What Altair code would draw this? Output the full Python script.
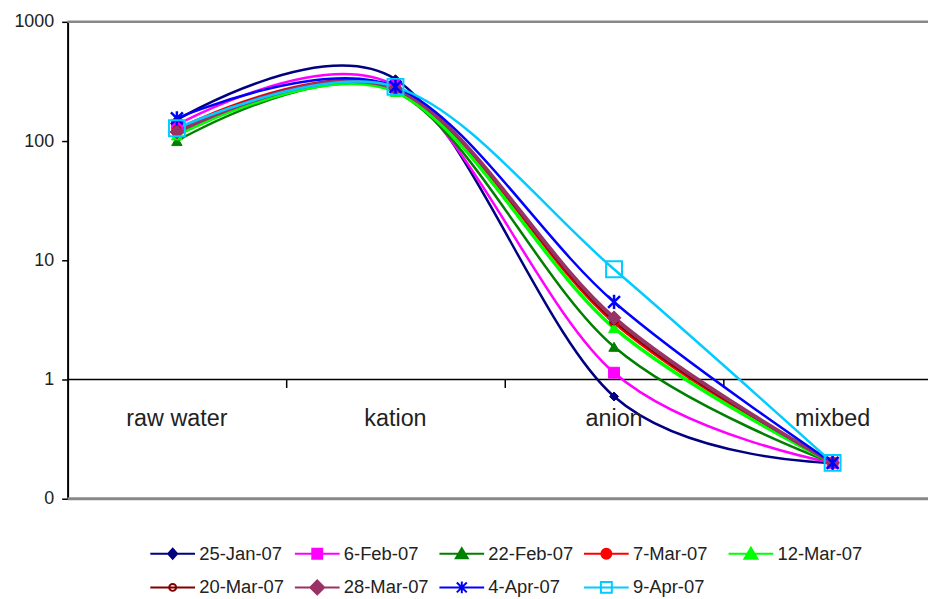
import altair as alt
import pandas as pd

# ---- data ----
categories = ["raw water", "kation", "anion", "mixbed"]
series = ["25-Jan-07", "6-Feb-07", "22-Feb-07", "7-Mar-07", "12-Mar-07",
          "20-Mar-07", "28-Mar-07", "4-Apr-07", "9-Apr-07"]
v_25jan = [150, 330, 0.72, 0.2]
v_6feb = [136, 290, 1.14, 0.2]
v_22feb = [100, 260, 1.88, 0.2]
v_7mar = [125, 275, 3.0, 0.2]
v_12mar = [112, 260, 2.71, 0.2]
v_20mar = [124, 275, 3.1, 0.2]
v_28mar = [119, 275, 3.29, 0.2]
v_4apr = [155, 285, 4.47, 0.2]
v_9apr = [128, 285, 8.4, 0.2]
all_values = [v_25jan, v_6feb, v_22feb, v_7mar, v_12mar, v_20mar, v_28mar, v_4apr, v_9apr]
y_ticks = [0.1, 1, 10, 100, 1000]

# ---- styles ----
colors = ["#000080", "#FF00FF", "#008000", "#FF0000", "#00FF00",
          "#800000", "#993366", "#0000FF", "#00CCFF"]
line_widths = [2.5, 2.5, 2.5, 3, 3.5, 2, 4, 2.5, 2.5]
star = "M-1,-1L1,1M1,-1L-1,1M0,-1.2L0,1.2"
marker_shapes = ["diamond", "square", "triangle-up", "circle", "triangle-up",
                 "circle", "diamond", star, "square"]
marker_sizes = [81, 121, 110, 81, 121, 49, 196, 144, 256]
marker_fills = [colors[0], colors[1], colors[2], colors[3], colors[4],
                "#FFFFFF", colors[6], None, None]

L = "M-1,0L8,0"
legend_paths = [
    L + "M3.5,-1L4.4,0L3.5,1L2.6,0Z",
    L + "M2.5,-1H4.5V1H2.5Z",
    L + "M3.5,-1.1L4.7,0.9H2.3Z",
    L + "M2.5,0A1,1 0 1,1 4.5,0A1,1 0 1,1 2.5,0Z",
    L + "M3.5,-1.2L4.8,1H2.2Z",
    L + "M2.8,0A0.7,0.7 0 1,1 4.2,0A0.7,0.7 0 1,1 2.8,0Z",
    L + "M3.5,-1.4L4.9,0L3.5,1.4L2.1,0Z",
    L + "M2.5,-1L4.5,1M4.5,-1L2.5,1M3.5,-1.2V1.2",
    L + "M2.4,-1.1H4.6V1.1H2.4Z",
]
legend_fills = [colors[0], colors[1], colors[2], colors[3], colors[4],
                "#FFFFFF", colors[6], colors[7], "#FFFFFF"]

rows = []
for s, vals in zip(series, all_values):
    for i, (c, v) in enumerate(zip(categories, vals)):
        rows.append({"series": s, "idx": i, "cat": c, "value": v})
df = pd.DataFrame(rows)
cat_df = pd.DataFrame({"idx": list(range(len(categories))), "cat": categories})

W = 866
H = 480
band = 220.0
x_dom = [-0.5, -0.5 + W / band]

legend = alt.Legend(
    title=None, orient="none", direction="horizontal", legendX=79, legendY=525,
    columns=5, gridAlign="all", columnPadding=6.5, rowPadding=12,
    symbolSize=100, symbolStrokeWidth=2, labelOffset=35,
    labelFont="Liberation Sans", labelFontSize=18.5, labelColor="#222222",
)

x_enc = alt.X("idx:Q", scale=alt.Scale(domain=x_dom, nice=False, zero=False),
              axis=alt.Axis(values=[0.5, 1.5, 2.5], labels=False, domain=False,
                            ticks=True, tickSize=8, tickColor="black", tickWidth=1.5,
                            grid=False, offset=-120, title=None))
y_enc = alt.Y("value:Q", scale=alt.Scale(type="log", domain=[0.1, 1000], nice=False),
              axis=alt.Axis(values=y_ticks, grid=False, title=None,
                            labelExpr="datum.value < 0.5 ? '0' : format(datum.value, 'd')",
                            labelFont="Liberation Sans", labelFontSize=18,
                            labelColor="#222222", labelPadding=8,
                            domainColor="black", domainWidth=2,
                            tickColor="black", tickWidth=1.5, tickSize=6))

base = alt.Chart(df)
layers = []

frame_top = alt.Chart(pd.DataFrame({"value": [1000]})).mark_rule(
    color="#888888", strokeWidth=2.5).encode(y="value:Q")
frame_bot = alt.Chart(pd.DataFrame({"value": [0.1]})).mark_rule(
    color="#888888", strokeWidth=3).encode(y="value:Q")
one_line = alt.Chart(pd.DataFrame({"value": [1]})).mark_rule(
    color="black", strokeWidth=1.5).encode(y="value:Q")
layers += [frame_top, frame_bot, one_line]

for i, s in enumerate(series):
    ln = base.transform_filter(alt.datum.series == s).mark_line(
        interpolate="cardinal", tension=0, strokeWidth=line_widths[i], color=colors[i]
    ).encode(x=x_enc, y=y_enc)
    layers.append(ln)

for i, s in enumerate(series):
    kw = dict(shape=marker_shapes[i], size=marker_sizes[i], stroke=colors[i],
              strokeWidth=2 if marker_fills[i] is None or marker_fills[i] == "#FFFFFF" else 1,
              opacity=1)
    if marker_fills[i] is None:
        kw["filled"] = False
        kw["fillOpacity"] = 0
    else:
        kw["filled"] = True
        kw["fill"] = marker_fills[i]
    if i == 7:
        kw["strokeWidth"] = 2.5
    pt = base.transform_filter(alt.datum.series == s).mark_point(**kw).encode(
        x=x_enc, y=y_enc)
    layers.append(pt)

# legend-only layer (draws nothing in the plot, its scales feed the legend)
legend_layer = base.transform_filter("false").mark_point(
    filled=True, opacity=1, strokeWidth=2
).encode(
    x=x_enc, y=y_enc,
    fill=alt.Fill("series:N", scale=alt.Scale(domain=series, range=legend_fills), legend=legend),
    stroke=alt.Stroke("series:N", scale=alt.Scale(domain=series, range=colors), legend=legend),
    shape=alt.Shape("series:N", scale=alt.Scale(domain=series, range=legend_paths), legend=legend),
)
layers.append(legend_layer)

labels = alt.Chart(cat_df).mark_text(
    dy=47, baseline="alphabetic", align="center", font="Liberation Sans",
    fontSize=23.5, color="#222222"
).encode(x=alt.X("idx:Q"), y=alt.datum(1), text="cat:N")
layers.append(labels)

chart = alt.layer(*layers).properties(
    width=W, height=H,
    autosize=alt.AutoSizeParams(type="none"),
    padding={"left": 60, "top": 12, "right": 0, "bottom": 98},
).configure_view(strokeWidth=0).configure(background="white")

chart.save("out.html", embed_options={"renderer": "svg", "actions": False})
